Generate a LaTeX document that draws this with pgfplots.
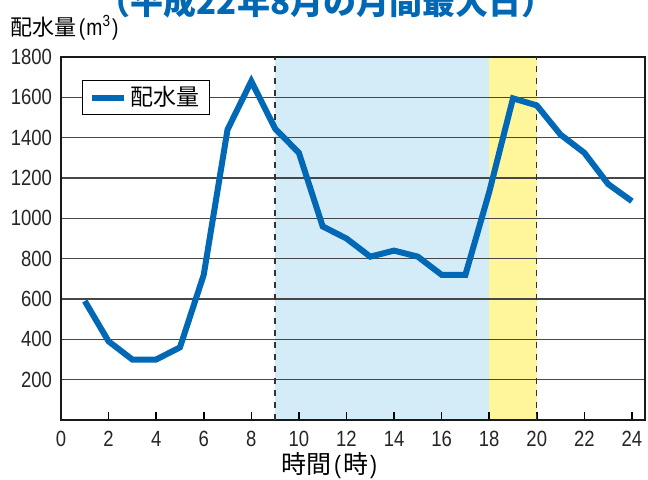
\documentclass[border=0pt]{standalone}
\usepackage{pgfplots}
\pgfplotsset{compat=1.18}
\usepackage{fontspec}
\setmainfont{Liberation Sans}[FakeStretch=0.84]
\newfontfamily\jp{Noto Sans CJK JP}
\newfontfamily\jpl{Noto Sans CJK JP Light}
\definecolor{lineblue}{HTML}{0068B5}
\definecolor{bgblue}{HTML}{D4EBF8}
\definecolor{bgyellow}{HTML}{FFF59B}
\definecolor{gridc}{HTML}{474747}
\begin{document}
\begin{tikzpicture}
\begin{axis}[
  at={(30.5pt,29.5pt)}, anchor=south west,
  scale only axis, width=292pt, height=181.5pt,
  xmin=0, xmax=24.55, ymin=0, ymax=1800,
  set layers,
  xtick={0,2,...,24}, ytick={200,400,...,1800},
  ymajorgrids, grid style={gridc, line width=0.8pt},
  axis line style={black!90, line width=1.4pt},
  tick style={black, line width=0.8pt},
  xtick pos=bottom, xtick align=inside, major tick length=4pt,
  ytick style={draw=none},
  /pgf/number format/assume math mode=true,
  /pgf/number format/set thousands separator={},
  tick label style={font=\fontsize{11}{12}\selectfont, text=black!85},
  xticklabel style={yshift=-2pt},
  yticklabel style={xshift=-1pt},
  legend style={at={(0.036,0.937)}, anchor=north west, draw=black, line width=0.5pt,
    font=\jp\fontsize{11.5}{13}\selectfont, inner xsep=3pt, inner ysep=1pt, legend cell align=left},
  legend image code/.code={\draw[#1, line width=3pt] (0pt,0pt) -- (16pt,0pt);},
]
\addplot[on layer=axis background, fill=bgblue, draw=none, forget plot] coordinates {(9,0) (9,1800) (18,1800) (18,0)} \closedcycle;
\addplot[on layer=axis background, fill=bgyellow, draw=none, forget plot] coordinates {(18,0) (18,1800) (20,1800) (20,0)} \closedcycle;
\addplot[black!80, dashed, line width=0.6pt, forget plot] coordinates {(9,0) (9,1800)};
\addplot[black!80, dashed, line width=0.6pt, forget plot] coordinates {(20,0) (20,1800)};
\addplot[lineblue, line width=3pt, line join=miter, no marks] coordinates {
(1,590) (2,390) (3,300) (4,300) (5,360) (6,720) (7,1440) (8,1680) (9,1445)
(10,1325) (11,960) (12,900) (13,810) (14,840) (15,810) (16,720) (17,720)
(18,1130) (19,1595) (20,1560) (21,1415) (22,1325) (23,1170) (24,1085)};
\addlegendentry{配水量}
\end{axis}
\node[anchor=base west, inner sep=0pt] at (5pt,222pt) {{\jp\fontsize{11}{13}\selectfont 配水量}{\fontsize{11.5}{13}\selectfont\hspace{1.2pt}(\hspace{0.6pt}m\textsuperscript{3}\hspace{0.6pt})}};
\node[anchor=base, inner sep=0pt] at (164.5pt,3pt) {{\jp\fontsize{12.5}{14}\selectfont 時間}{\fontsize{12.5}{14}\selectfont\hspace{1.5pt}(\hspace{1pt}}{\jp\fontsize{12.5}{14}\selectfont 時}{\fontsize{12.5}{14}\selectfont\hspace{1pt})}};
\node[anchor=base, inner sep=0pt, text=lineblue] at (163pt,232.5pt) {\jp\bfseries\fontsize{16.5}{18}\selectfont （平成22年8月の月間最大日）};
\pgfresetboundingbox
\useasboundingbox (0,0) rectangle (324pt,239.5pt);
\end{tikzpicture}
\end{document}
